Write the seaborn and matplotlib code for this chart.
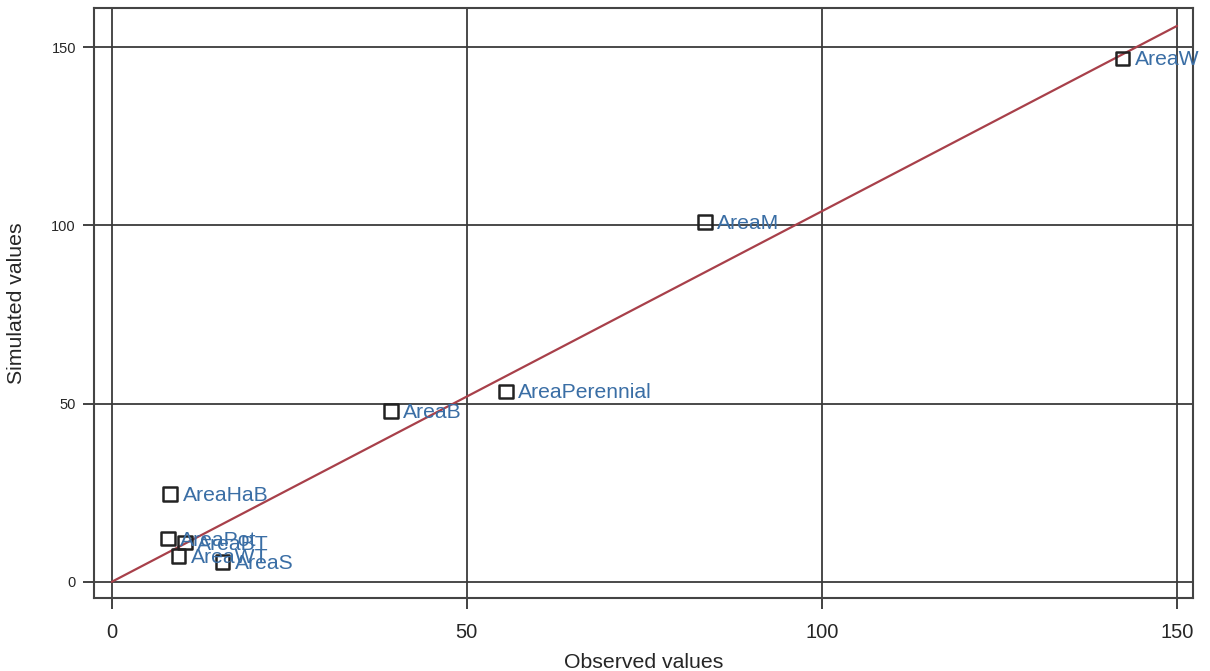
import matplotlib
matplotlib.use("Agg")
import matplotlib.pyplot as plt
import seaborn as sns
import numpy as np
import pandas as pd

# Observed vs simulated areas
names = ["AreaW", "AreaM", "AreaPerennial", "AreaB", "AreaHaB",
         "AreaPot", "AreaBT", "AreaWT", "AreaS"]
observed = [142.3, 83.5, 55.5, 39.3, 8.2, 7.9, 10.3, 9.4, 15.6]
simulated = [146.9, 101.0, 53.4, 48.0, 24.7, 12.1, 11.0, 7.3, 5.6]

# fitted line through the origin
fit_x = [0, 150]
fit_slope = 1.04

ticks = [0, 50, 100, 150]

df = pd.DataFrame({"name": names, "observed": observed, "simulated": simulated})

sns.set_theme(style="white")
plt.rcParams["font.family"] = ["Liberation Sans", "DejaVu Sans"]

fig = plt.figure(figsize=(12.1, 6.71), dpi=100)
ax = fig.add_axes([0.0777, 0.109, 0.908, 0.879])

for t in ticks:
    ax.axhline(t, color="#3a3a3a", lw=1.3, zorder=1)
    ax.axvline(t, color="#3a3a3a", lw=1.3, zorder=1)

ax.plot(fit_x, [v * fit_slope for v in fit_x], color="#a8404a", lw=1.6, zorder=2)

sns.scatterplot(data=df, x="observed", y="simulated", marker="s", s=95,
                facecolor="none", edgecolor="#222222", linewidth=1.8,
                ax=ax, zorder=3, legend=False)

for n, x, y in zip(names, observed, simulated):
    ax.annotate(n, (x, y), xytext=(9, -1), textcoords="offset points",
                ha="left", va="center", fontsize=15.2, color="#3a6ea5", zorder=4)

ax.set_xlim(-2.5, 152.2)
ax.set_ylim(-4.5, 161)
ax.set_xticks(ticks)
ax.set_yticks(ticks)
ax.tick_params(axis="x", labelsize=14.5, length=8, width=1.3, color="#333333",
               bottom=True, pad=10)
ax.tick_params(axis="y", labelsize=10.5, length=8, width=1.3, color="#333333",
               left=True, pad=5)
for sp in ax.spines.values():
    sp.set_color("#444444")
    sp.set_linewidth(1.5)

ax.set_xlabel("Observed values", fontsize=15.3, labelpad=8)
ax.set_ylabel("Simulated values", fontsize=15.3, labelpad=18)

fig.savefig("out.png", dpi=100)
